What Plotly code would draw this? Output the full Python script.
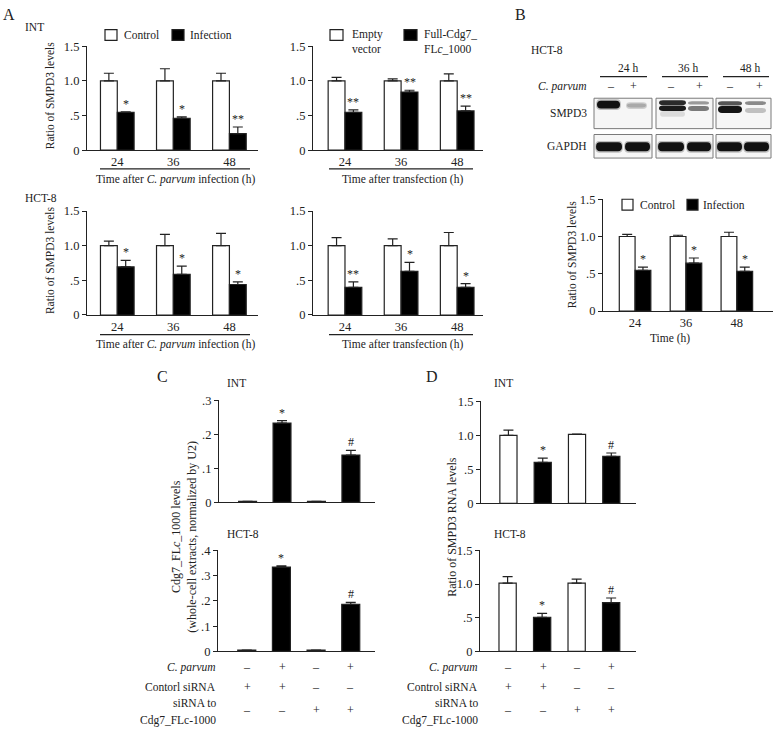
import plotly.graph_objects as go

W, H = 774, 731
FONT = "Liberation Serif, Times New Roman, DejaVu Serif, serif"
INK = "#222222"
TXT = 11.5
TICK = 12.5

# ---------------- data ----------------
a_times = ["24", "36", "48"]
# Panel A, INT, infection
a_int_ctrl = [1.0, 1.0, 1.0]
a_int_ctrl_err = [0.11, 0.175, 0.11]
a_int_inf = [0.545, 0.46, 0.24]
a_int_inf_err = [0.01, 0.02, 0.095]
a_int_inf_sig = ["*", "*", "**"]
# Panel A, INT, transfection
a_int_empty = [1.0, 1.0, 1.0]
a_int_empty_err = [0.05, 0.03, 0.10]
a_int_full = [0.547, 0.84, 0.566]
a_int_full_err = [0.035, 0.025, 0.07]
a_int_full_sig = ["**", "**", "**"]
# Panel A, HCT-8, infection
a_hct_ctrl = [1.0, 1.0, 1.0]
a_hct_ctrl_err = [0.066, 0.164, 0.178]
a_hct_inf = [0.695, 0.587, 0.44]
a_hct_inf_err = [0.094, 0.117, 0.038]
a_hct_inf_sig = ["*", "*", "*"]
# Panel A, HCT-8, transfection
a_hct_empty = [1.0, 1.0, 1.0]
a_hct_empty_err = [0.117, 0.098, 0.19]
a_hct_full = [0.397, 0.63, 0.397]
a_hct_full_err = [0.08, 0.13, 0.056]
a_hct_full_sig = ["**", "*", "*"]
# Panel B
b_ctrl = [1.0, 1.0, 1.0]
b_ctrl_err = [0.03, 0.017, 0.057]
b_inf = [0.546, 0.642, 0.533]
b_inf_err = [0.044, 0.07, 0.057]
b_inf_sig = ["*", "*", "*"]
# Panel C (4 conditions)
c_int = [0.003, 0.233, 0.003, 0.139]
c_int_err = [0.0, 0.007, 0.0, 0.014]
c_hct = [0.005, 0.334, 0.005, 0.186]
c_hct_err = [0.0, 0.005, 0.0, 0.008]
cd_sig = ["", "*", "", "#"]
cd_colors = ["white", "black", "white", "black"]
# Panel D
d_int = [1.0, 0.603, 1.015, 0.69]
d_int_err = [0.077, 0.062, 0.004, 0.05]
d_hct = [1.014, 0.507, 1.014, 0.725]
d_hct_err = [0.097, 0.058, 0.058, 0.068]
# condition table
row_parvum = ["–", "+", "–", "+"]
row_ctrl_sirna = ["+", "+", "–", "–"]
row_target_sirna = ["–", "–", "+", "+"]

fig = go.Figure()


def X(px):
    return px / W


def Y(py):
    return 1 - py / H


def add_axes(i, x0, x1, ytop, ybot, xr, yr, yvals, ytext, xvals=None, xtext=None):
    xs = "xaxis" if i == 1 else f"xaxis{i}"
    ys = "yaxis" if i == 1 else f"yaxis{i}"
    xid = "x" if i == 1 else f"x{i}"
    yid = "y" if i == 1 else f"y{i}"
    fig.update_layout(**{
        xs: dict(domain=[X(x0), X(x1)], range=xr, anchor=yid, showline=True,
                 linecolor=INK, linewidth=1.2, ticks="", showgrid=False, zeroline=False,
                 tickvals=xvals if xvals is not None else [],
                 ticktext=xtext if xtext is not None else [],
                 showticklabels=xvals is not None,
                 tickfont=dict(family=FONT, size=TICK, color=INK), fixedrange=True),
        ys: dict(domain=[Y(ybot), Y(ytop)], range=yr, anchor=xid, showline=True,
                 linecolor=INK, linewidth=1.2, ticks="outside", ticklen=4, tickwidth=1.2,
                 tickcolor=INK, showgrid=False, zeroline=False, tickvals=yvals, ticktext=ytext,
                 tickfont=dict(family=FONT, size=TICK, color=INK), fixedrange=True),
    })
    return xid, yid


def bar(xid, yid, xs, ys, errs, color, width, offset):
    fig.add_trace(go.Bar(
        x=xs, y=ys, xaxis=xid, yaxis=yid, width=width, offset=offset,
        marker=dict(color=color, line=dict(color=INK, width=1.2)),
        error_y=dict(type="data", array=errs, arrayminus=[0] * len(errs), symmetric=False,
                     color=INK, thickness=1.2, width=5),
        showlegend=False, hoverinfo="skip"))


def sig(xid, yid, xs, ys, errs, marks, size=12):
    for xv, yv, ev, m in zip(xs, ys, errs, marks):
        if m:
            fig.add_annotation(x=xv, y=yv + ev, xref=xid, yref=yid, text=m, showarrow=False,
                               yanchor="bottom", yshift=-1,
                               font=dict(family=FONT, size=size, color=INK))


ann = []
shapes = []


def T(x, y, text, size=TXT, xa="center", ya="middle", angle=0):
    ann.append(dict(x=X(x), y=Y(y), xref="paper", yref="paper", text=text, showarrow=False,
                    xanchor=xa, yanchor=ya, textangle=angle,
                    font=dict(family=FONT, size=size, color=INK)))


def L(x0, y0, x1, y1, w=1.2, color=INK):
    shapes.append(dict(type="line", xref="paper", yref="paper", x0=X(x0), y0=Y(y0), x1=X(x1), y1=Y(y1),
                       line=dict(color=color, width=w)))


def R(x0, y0, x1, y1, fill="white", color=INK, w=1.2):
    shapes.append(dict(type="rect", xref="paper", yref="paper", x0=X(x0), y0=Y(y0), x1=X(x1), y1=Y(y1),
                       fillcolor=fill, line=dict(color=color, width=w)))


def band(x0, y0, x1, y1, color, op=1.0):
    r = min(4, (x1 - x0) / 3)
    yc = (y0 + y1) / 2
    p = (f"M {X(x0)},{Y(yc)} Q {X(x0)},{Y(y0)} {X(x0 + r)},{Y(y0)} L {X(x1 - r)},{Y(y0)} "
         f"Q {X(x1)},{Y(y0)} {X(x1)},{Y(yc)} Q {X(x1)},{Y(y1)} {X(x1 - r)},{Y(y1)} "
         f"L {X(x0 + r)},{Y(y1)} Q {X(x0)},{Y(y1)} {X(x0)},{Y(yc)} Z")
    shapes.append(dict(type="path", xref="paper", yref="paper", path=p, fillcolor=color,
                       opacity=op, line=dict(width=0)))


A_Y = [0, 0.5, 1.0, 1.5]
A_YT = ["0", ".5", "1.0", "1.5"]
cats3 = [0, 1, 2]
BW = 0.3

# ---------------- Panel A ----------------
panelsA = [
    (1, 87, 258, 40, 146, [-0.54, 2.51], a_int_ctrl, a_int_ctrl_err, a_int_inf, a_int_inf_err, a_int_inf_sig),
    (2, 313, 483, 40, 146, [-0.57, 2.46], a_int_empty, a_int_empty_err, a_int_full, a_int_full_err, a_int_full_sig),
    (3, 87, 258, 208, 314, [-0.54, 2.51], a_hct_ctrl, a_hct_ctrl_err, a_hct_inf, a_hct_inf_err, a_hct_inf_sig),
    (4, 313, 483, 208, 314, [-0.57, 2.46], a_hct_empty, a_hct_empty_err, a_hct_full, a_hct_full_err, a_hct_full_sig),
]
for i, x0, x1, yt, yb, xr, c, ce, t, te, s in panelsA:
    xid, yid = add_axes(i, x0, x1, yt, yb, xr, [0, 1.5], A_Y, A_YT, cats3, a_times)
    bar(xid, yid, cats3, c, ce, "white", BW, -BW)
    bar(xid, yid, cats3, t, te, "black", BW, 0)
    sig(xid, yid, [k + BW / 2 for k in cats3], t, te, s)

T(9, 8, "A", size=16)
T(23, 20, "INT", xa="left")
T(23, 195, "HCT-8", xa="left")
T(50, 90, "Ratio of SMPD3 levels", angle=-90)
T(50, 258, "Ratio of SMPD3 levels", angle=-90)
for yy, yl in [(165, 176), (334, 344)]:
    L(100, yy, 250, yy)
    L(329, yy, 473, yy)
    T(175, yl, "Time after <i>C. parvum</i> infection (h)")
    T(402, yl, "Time after transfection (h)")
# legends A
R(105, 23, 117, 34)
T(122, 28.5, "Control", xa="left")
R(172, 23, 184, 34, fill="black")
T(188, 28.5, "Infection", xa="left")
R(330, 23, 343, 34)
T(350, 28.5, "Empty", xa="left")
T(350, 43, "vector", xa="left")
R(404, 23, 417, 34, fill="black")
T(422, 28.5, "Full-Cdg7_", xa="left")
T(422, 43, "FL<i>c</i>_1000", xa="left")

# ---------------- Panel B ----------------
xid, yid = add_axes(5, 603, 773, 196, 310, [-0.63, 2.71], [0, 1.5], A_Y, A_YT, cats3, a_times)
BWB = 0.31
bar(xid, yid, cats3, b_ctrl, b_ctrl_err, "white", BWB, -BWB)
bar(xid, yid, cats3, b_inf, b_inf_err, "black", BWB, 0)
sig(xid, yid, [k + BWB / 2 for k in cats3], b_inf, b_inf_err, b_inf_sig)
T(572, 252, "Ratio of SMPD3 levels", angle=-90)
T(670, 338, "Time (h)")
R(622, 196, 633, 207)
T(638, 201.5, "Control", xa="left")
R(687, 196, 698, 207, fill="black")
T(701, 201.5, "Infection", xa="left")

T(520, 8, "B", size=16)
T(529, 44, "HCT-8", xa="left")
for cx, lx0, lx1, lab in [(628, 600, 647, "24 h"), (688, 662, 708, "36 h"), (750, 723, 769, "48 h")]:
    T(cx, 62, lab)
    L(lx0, 71, lx1, 71)
T(589, 81, "<i>C. parvum</i>", xa="right")
for mx, m in [(611, "–"), (633, "+"), (671, "–"), (699, "+"), (730, "–"), (759, "+")]:
    T(mx, 81, m, size=12)
T(589, 108, "SMPD3", xa="right")
T(589, 142, "GAPDH", xa="right")
for bx0, bx1 in [(594, 652), (656, 713), (716, 771)]:
    R(bx0, 93, bx1, 124, fill="#f6f6f6", color="#7a7a7a", w=1)
    R(bx0, 130, bx1, 154, fill="#f6f6f6", color="#7a7a7a", w=1)
# SMPD3 bands
band(596, 94, 621, 105, "#9a9a9a", 0.6)
band(597, 95.5, 620, 103.5, "#111111")
band(626, 97, 647, 104, "#cfcfcf")
band(627, 98.5, 646, 102.5, "#a0a0a0", 0.8)
band(659, 95, 686, 100, "#2a2a2a")
band(659, 100.5, 686, 106, "#1a1a1a")
band(660, 106, 685, 112, "#d0d0d0", 0.7)
band(688, 96, 709, 99.5, "#9a9a9a")
band(688, 101, 709, 106, "#7a7a7a")
band(718, 96, 742, 100.5, "#555555")
band(718, 101, 742, 108, "#151515")
band(745, 96, 766, 100, "#8a8a8a")
band(745, 103, 766, 108, "#c0c0c0")
# GAPDH bands
for gx0, gx1 in [(596, 622), (625, 650), (658, 684), (687, 711), (717, 742), (744, 769)]:
    band(gx0 - 1, 136.5, gx1 + 1, 148.5, "#8a8a8a", 0.5)
    band(gx0, 138, gx1, 147, "#111111")

# ---------------- Panel C ----------------
cats4 = [0, 1, 2, 3]
xid, yid = add_axes(6, 219, 375, 401, 505, [-0.83, 3.70], [0, 0.3], [0, 0.1, 0.2, 0.3], ["0", ".1", ".2", ".3"])
bar(xid, yid, cats4, c_int, c_int_err, cd_colors, 0.52, -0.26)
sig(xid, yid, cats4, c_int, c_int_err, cd_sig)
xid, yid = add_axes(7, 218, 375, 554, 657, [-0.83, 3.70], [0, 0.4], [0, 0.1, 0.2, 0.3, 0.4], ["0", ".1", ".2", ".3", ".4"])
bar(xid, yid, cats4, c_hct, c_hct_err, cd_colors, 0.52, -0.26)
sig(xid, yid, cats4, c_hct, c_hct_err, cd_sig)
T(162, 377, "C", size=16)
T(236, 383, "INT")
T(243, 537, "HCT-8")
T(184, 540, "Cdg7_FL<i>c</i>_1000 levels<br>(whole-cell extracts, normalized by U2)", size=12, angle=-90)

# ---------------- Panel D ----------------
xid, yid = add_axes(8, 481, 636, 402, 506, [-0.80, 3.72], [0, 1.5], A_Y, A_YT)
bar(xid, yid, cats4, d_int, d_int_err, cd_colors, 0.5, -0.25)
sig(xid, yid, cats4, d_int, d_int_err, cd_sig)
xid, yid = add_axes(9, 480, 636, 554, 657, [-0.80, 3.72], [0, 1.5], A_Y, A_YT)
bar(xid, yid, cats4, d_hct, d_hct_err, cd_colors, 0.5, -0.25)
sig(xid, yid, cats4, d_hct, d_hct_err, cd_sig)
T(432, 377, "D", size=16)
T(503, 383, "INT")
T(510, 537, "HCT-8")
T(452, 530, "Ratio of SMPD3 RNA levels", size=12, angle=-90)

# ---------------- condition tables ----------------
for rx, cols, ctrl_label in [(218, [247, 282, 316, 350], "Contorl siRNA"),
                             (480, [508, 543, 577, 611], "Control siRNA")]:
    T(rx, 673, "<i>C. parvum</i>", xa="right")
    T(rx, 693, ctrl_label, xa="right")
    T(rx, 710, "siRNA to", xa="right")
    T(rx, 727, "Cdg7_FLc-1000", xa="right")
    for cx, a, b, c in zip(cols, row_parvum, row_ctrl_sirna, row_target_sirna):
        T(cx, 673, a, size=12)
        T(cx, 693, b, size=12)
        T(cx, 717, c, size=12)

fig.update_layout(width=W, height=H, margin=dict(l=0, r=0, t=0, b=0),
                  paper_bgcolor="white", plot_bgcolor="white", showlegend=False,
                  annotations=list(fig.layout.annotations) + ann, shapes=shapes,
                  font=dict(family=FONT, color=INK))
fig.write_html("out.html", config={"displayModeBar": False},
               post_script="document.body.style.margin='0';document.body.style.overflow='hidden';")
